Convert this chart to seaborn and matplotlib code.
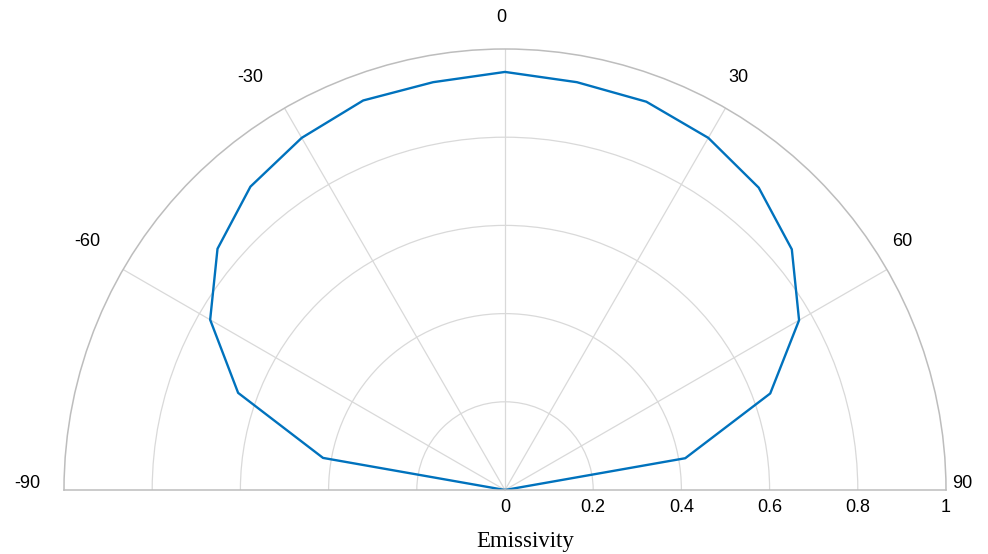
import numpy as np
import pandas as pd
import matplotlib
matplotlib.use("Agg")
import matplotlib.pyplot as plt
import matplotlib.transforms as mtransforms
import seaborn as sns

# Data
angles_deg = [-90, -80, -70, -60, -50, -40, -30, -20, -10, 0,
              10, 20, 30, 40, 50, 60, 70, 80, 90]
emissivity = [0.0, 0.419, 0.644, 0.772, 0.851, 0.898, 0.922, 0.940, 0.939, 0.948,
              0.939, 0.937, 0.922, 0.895, 0.849, 0.770, 0.640, 0.415, 0.0]
theta_labels = ["-90", "-60", "-30", "0", "30", "60", "90"]
r_ticks = [0, 0.2, 0.4, 0.6, 0.8, 1.0]
r_labels = ["0", "0.2", "0.4", "0.6", "0.8", "1"]

df = pd.DataFrame({"theta": np.deg2rad(angles_deg), "r": emissivity})

plt.rcParams["font.family"] = ["Liberation Sans", "DejaVu Sans"]

W, H = 988, 554
cx, cy, R = 505, 490, 441  # centre and radius in pixels (top-left origin)
box_center_y = cy - R / 2
fig = plt.figure(figsize=(W / 100, H / 100), dpi=100)
ax = fig.add_axes([(cx - R) / W, (H - (box_center_y + R)) / H, 2 * R / W, 2 * R / H],
                  projection="polar")
ax.set_theta_zero_location("N")
ax.set_theta_direction(-1)
ax.set_thetamin(-90)
ax.set_thetamax(90)
ax.set_rlim(0, 1)

sns.lineplot(data=df, x="theta", y="r", ax=ax, sort=False, estimator=None,
             color="#0072BD", linewidth=1.7)
ax.set_xlabel("")
ax.set_ylabel("")

ax.set_xticks(np.deg2rad([-60, -30, 0, 30, 60]))
ax.set_xticklabels([])
ax.set_yticks([0.2, 0.4, 0.6, 0.8])
ax.set_yticklabels([])
ax.grid(True, color="#d9d9d9", linewidth=0.9)
ax.tick_params(length=0)
for name in ["polar", "start", "end"]:
    ax.spines[name].set_color("#bdbdbd")
    ax.spines[name].set_linewidth(1.1)
ax.spines["inner"].set_visible(False)

# Theta labels (pixel positions of label centres, top-left origin)
label_pos = [(27, 483), (87.5, 242), (250.5, 78), (501.5, 17),
             (738.5, 77), (902, 242), (962, 483)]
for (px, py), lab in zip(label_pos, theta_labels):
    fig.text(px / W, 1 - py / H, lab, ha="center", va="center", fontsize=13)

# Radial labels below the baseline
off = mtransforms.ScaledTranslation(0, -18 / 100, fig.dpi_scale_trans)
for rv, lab in zip(r_ticks, r_labels):
    ax.text(np.deg2rad(90), rv, lab, ha="center", va="center", fontsize=13,
            transform=ax.transData + off)

fig.text(525 / W, 1 - 541 / H, "Emissivity", ha="center", va="center",
         fontsize=16.5, family=["Liberation Serif", "DejaVu Serif"])

fig.savefig("out.png", dpi=100)
